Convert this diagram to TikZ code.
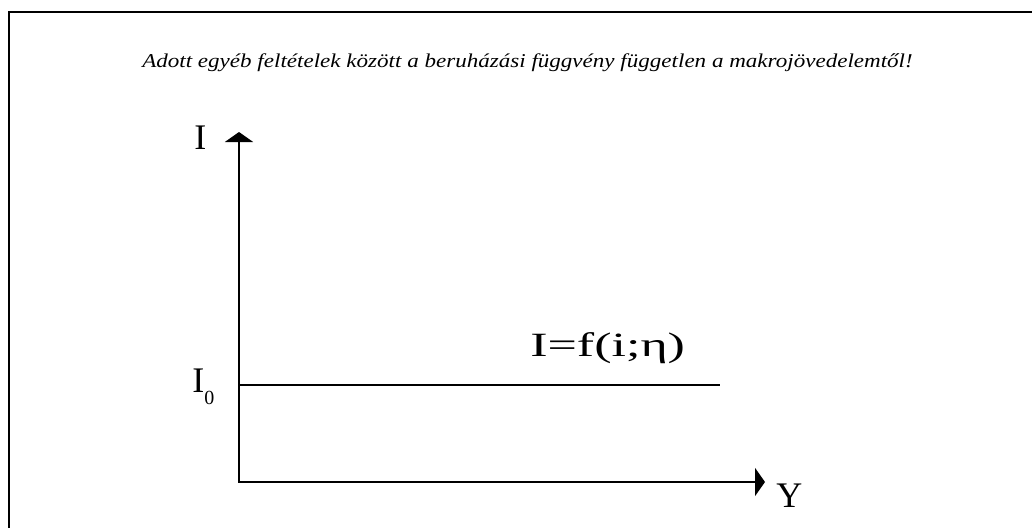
\documentclass[tikz,border=0pt]{standalone}
\usepackage{fontspec}
\setmainfont{Liberation Serif}
\usetikzlibrary{positioning,arrows.meta}

\tikzset{
  axis/.style={line width=1.5pt,{Triangle[width=21pt,length=7.5pt]}-{Triangle[width=21pt,length=7.5pt]}},
  levelline/.style={line width=1.5pt},
  biglabel/.style={font=\fontsize{27pt}{30pt}\selectfont,inner sep=0pt,anchor=base west},
}

\begin{document}
\begin{tikzpicture}[x=0.75pt,y=-0.75pt]
  \useasboundingbox (0,0) rectangle (1032,528);
  \begin{scope}
    \clip (0,0) rectangle (1032,528);
    \draw[line width=1.5pt] (9,12) rectangle (1060,560);
  \end{scope}
  % title
  \node[font=\fontsize{14.7pt}{17pt}\selectfont\itshape,inner sep=0pt,anchor=base west] (title) at (142,68)
    {\scalebox{1.176}[1]{Adott egyéb feltételek között a beruházási függvény független a makrojövedelemtől!}};
  % axes
  \coordinate (O) at (239,482);
  \coordinate (Itop) at (239,132);
  \coordinate (Yend) at (765,482);
  \draw[axis] (Itop) -- (O) -- (Yend);
  \node[biglabel] (Ilab) at (194,149) {I};
  \node[biglabel] (Ylab) at (776,507) {Y};
  % investment level
  \coordinate (I0) at (239,385);
  \coordinate (I0end) at (720,385);
  \draw[levelline] (I0) -- (I0end);
  \node[biglabel] (I0lab) at (192,392) {I\raisebox{-9pt}{\fontsize{15pt}{17pt}\selectfont 0}};
  \node[biglabel,font=\fontsize{25.5pt}{28pt}\selectfont] (flab) at (530,356) {\scalebox{1.53}[1]{I=f(i;η)}};
\end{tikzpicture}
\end{document}
